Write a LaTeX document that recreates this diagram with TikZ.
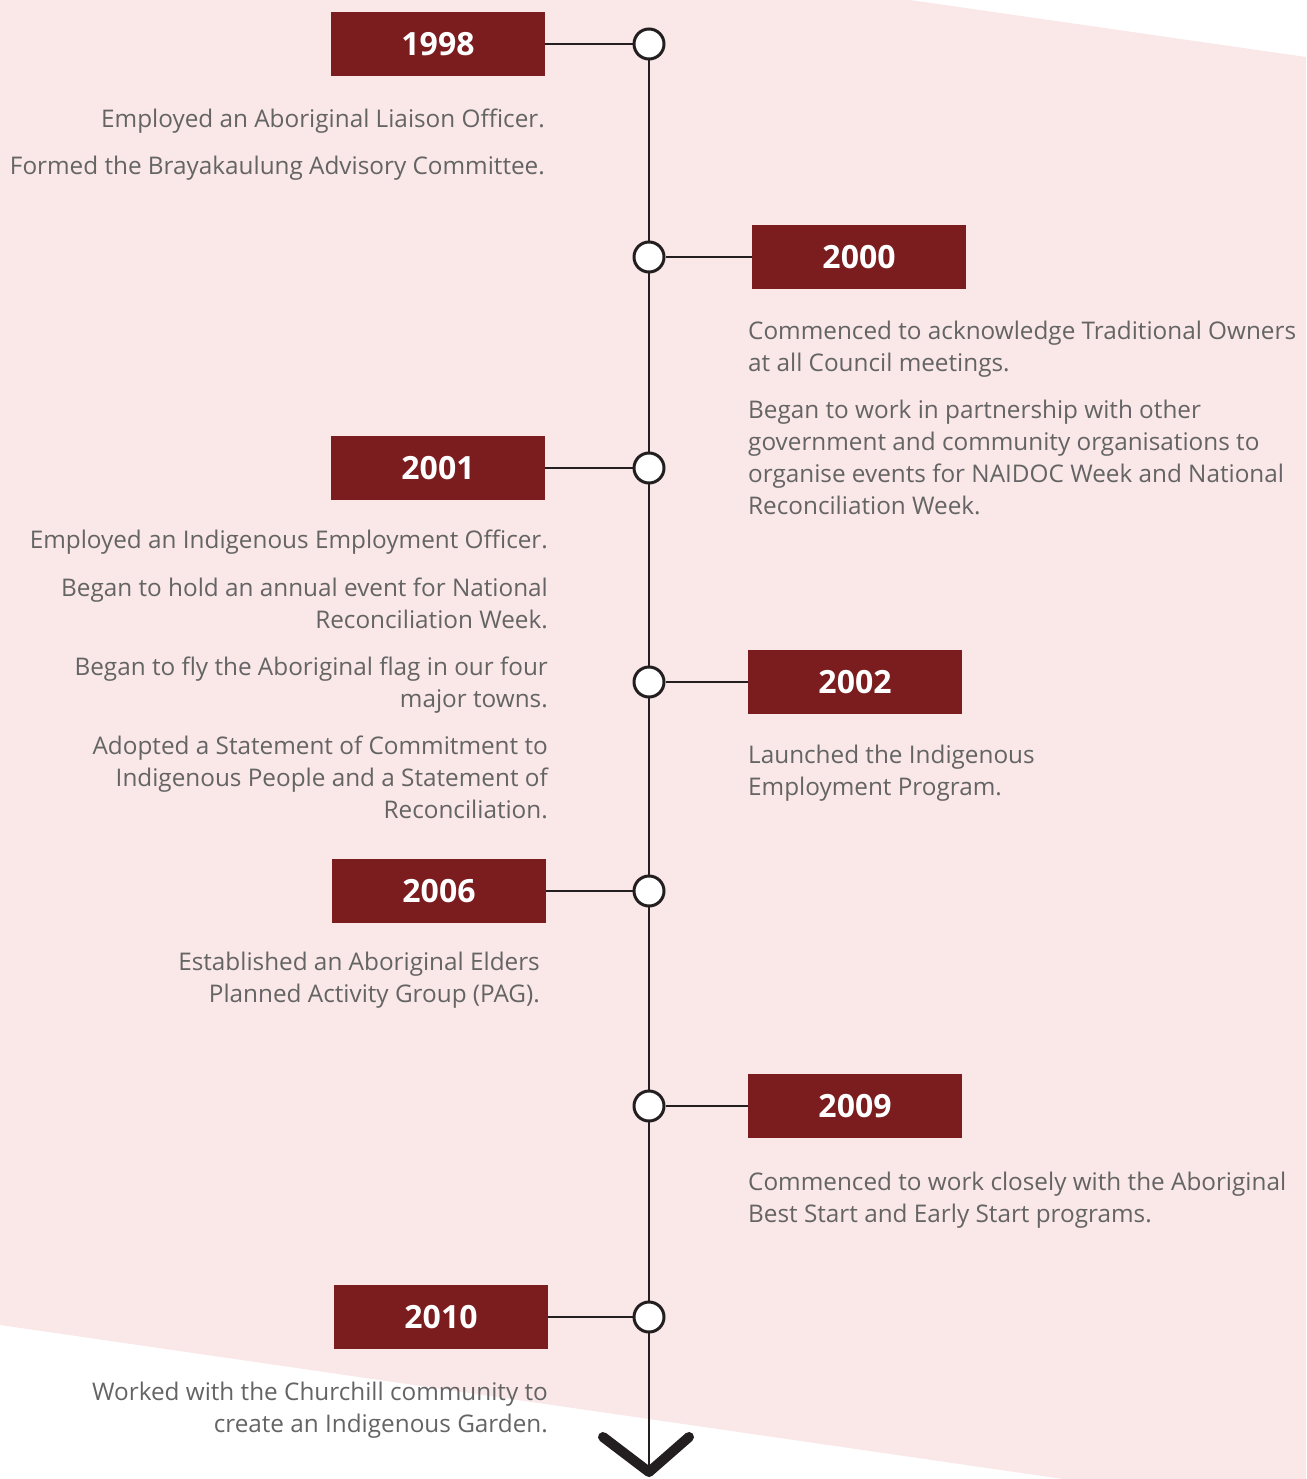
\documentclass[tikz,border=0pt]{standalone}
\usepackage{fontspec}
\setmainfont{Open Sans}
\definecolor{bgpink}{HTML}{FAE7E8}
\definecolor{yearred}{HTML}{7B1C1E}
\definecolor{linedark}{HTML}{231F20}
\definecolor{txtgray}{HTML}{646464}
\begin{document}
\begin{tikzpicture}[x=1pt,y=-1pt,
  yearbox/.style={fill=yearred,text=white,minimum width=214pt,minimum height=64pt,
    inner sep=0pt,font=\fontsize{32}{36}\selectfont\bfseries},
  dot/.style={circle,draw=linedark,fill=white,line width=3pt,minimum size=30pt,inner sep=0pt},
  lefttxt/.style={anchor=base east,align=right,inner sep=0pt,text=txtgray,
    font=\fontsize{24.3}{32}\selectfont},
  righttxt/.style={anchor=base west,align=left,inner sep=0pt,text=txtgray,
    font=\fontsize{24.3}{32}\selectfont},
  link/.style={draw=linedark,line width=2.5pt}]
\useasboundingbox (0,0) rectangle (1306,1479);
% background band
\fill[bgpink] (0,0) -- (910,0) -- (1306,57) -- (1306,1479) -- (1063,1479) -- (0,1325) -- cycle;
% axis and arrow
\coordinate (top) at (649,43);
\coordinate (tip) at (649,1472);
\draw[link] (top) -- (tip);
\draw[linedark,line width=10pt,line cap=round,line join=round] (603,1437) -- (tip) -- (689,1437);
% dots
\node[dot] (c1998) at (649,44) {};
\node[dot] (c2000) at (649,257) {};
\node[dot] (c2001) at (649,468) {};
\node[dot] (c2002) at (649,682) {};
\node[dot] (c2006) at (649,891) {};
\node[dot] (c2009) at (649,1106) {};
\node[dot] (c2010) at (649,1317) {};
% years
\node[yearbox] (y1998) at (438,44) {1998};
\node[yearbox] (y2000) at (859,257) {2000};
\node[yearbox] (y2001) at (438,468) {2001};
\node[yearbox] (y2002) at (855,682) {2002};
\node[yearbox] (y2006) at (439,891) {2006};
\node[yearbox] (y2009) at (855,1106) {2009};
\node[yearbox] (y2010) at (441,1317) {2010};
\path[link]
  (y1998) edge (c1998)
  (y2000) edge (c2000)
  (y2001) edge (c2001)
  (y2002) edge (c2002)
  (y2006) edge (c2006)
  (y2009) edge (c2009)
  (y2010) edge (c2010)
;
% texts
\node[lefttxt] (t1998a) at (545,128) {Employed an Aboriginal Liaison Officer.};
\node[lefttxt] (t1998b) at (545,175) {Formed the Brayakaulung Advisory Committee.};
\node[righttxt] (t2000a) at (748,371) {Commenced to acknowledge Traditional Owners\\at all Council meetings.};
\node[righttxt] (t2000b) at (748,514) {Began to work in partnership with other\\government and community organisations to\\organise events for NAIDOC Week and National\\Reconciliation Week.};
\node[lefttxt] (t2001a) at (548,548) {Employed an Indigenous Employment Officer.};
\node[lefttxt] (t2001b) at (548,628) {Began to hold an annual event for National\\Reconciliation Week.};
\node[lefttxt] (t2001c) at (548,707) {Began to fly the Aboriginal flag in our four\\major towns.};
\node[lefttxt] (t2001d) at (548,818) {Adopted a Statement of Commitment to\\Indigenous People and a Statement of\\Reconciliation.};
\node[righttxt] (t2002) at (748,795) {Launched the Indigenous\\Employment Program.};
\node[lefttxt] (t2006) at (540,1002) {Established an Aboriginal Elders\\Planned Activity Group (PAG).};
\node[righttxt] (t2009) at (748,1222) {Commenced to work closely with the Aboriginal\\Best Start and Early Start programs.};
\node[lefttxt] (t2010) at (548,1432) {Worked with the Churchill community to\\create an Indigenous Garden.};
\end{tikzpicture}
\end{document}
